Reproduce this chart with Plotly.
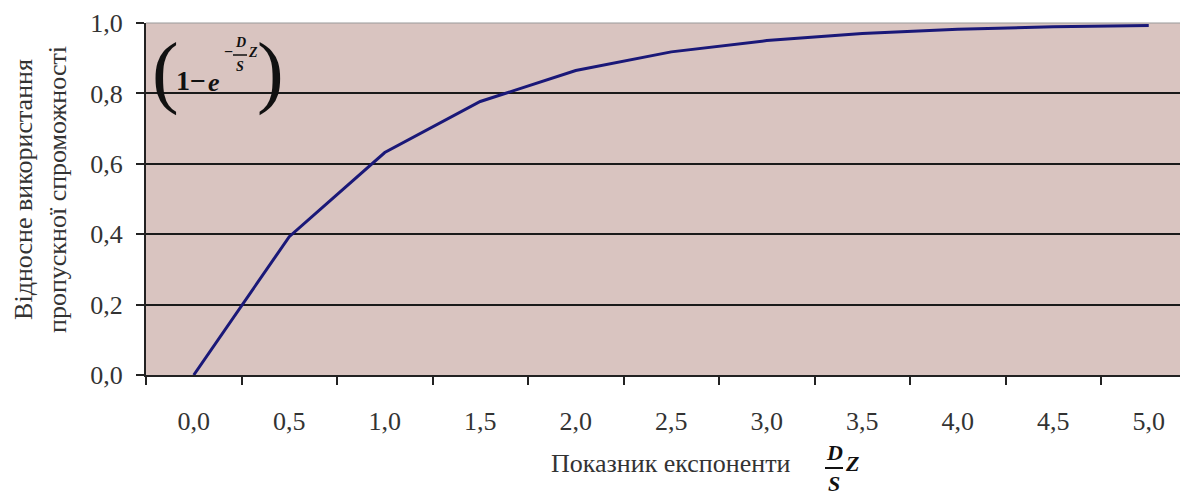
import plotly.graph_objects as go

x_labels = ["0,0", "0,5", "1,0", "1,5", "2,0", "2,5", "3,0", "3,5", "4,0", "4,5", "5,0"]
y_values = [0.0, 0.393, 0.632, 0.777, 0.865, 0.918, 0.950, 0.970, 0.982, 0.989, 0.993]
y_ticks = [0.0, 0.2, 0.4, 0.6, 0.8, 1.0]
y_tick_labels = ["0,0", "0,2", "0,4", "0,6", "0,8", "1,0"]

OFF = 8  # default page body margin
W, H = 1188 - OFF, 495 - OFF
L, T = 146 - OFF, 23 - OFF
BOTTOM = 375 - OFF
B = H - BOTTOM
PW, PH = W - L, BOTTOM - T

def px(x):  # page pixel -> paper
    return (x - OFF - L) / PW

def py(y):
    return (BOTTOM - (y - OFF)) / PH

SERIF = "Liberation Serif, Times New Roman, serif"
FS = 26

fig = go.Figure()
fig.add_trace(go.Scatter(
    x=x_labels, y=y_values, mode="lines",
    line=dict(color="#1a1878", width=3),
    hoverinfo="skip", showlegend=False,
))

fig.update_layout(
    width=W, height=H,
    margin=dict(l=L, r=0, t=T, b=B, pad=0),
    paper_bgcolor="white",
    plot_bgcolor="#d9c4c0",
    font=dict(family=SERIF, color="#333333", size=FS),
    showlegend=False,
)
fig.update_xaxes(
    type="category", range=[-0.5, -0.5 + PW / 95.5],
    tickson="boundaries", ticks="outside", ticklen=8, tickwidth=2, tickcolor="#222",
    showgrid=False, showline=True, linecolor="#222", linewidth=2,
    ticklabelstandoff=22, tickfont=dict(size=FS, color="#333"),
    zeroline=False,
)
fig.update_yaxes(
    range=[0, 1], tickvals=y_ticks, ticktext=y_tick_labels,
    ticks="outside", ticklen=8, tickwidth=2, tickcolor="#222",
    showgrid=True, gridcolor="#1a1a1a", gridwidth=1.5,
    showline=True, linecolor="#222", linewidth=2,
    ticklabelstandoff=8, tickfont=dict(size=FS, color="#333"),
    zeroline=False,
)

ann = []
def A(text, x, y, size, bold=False, italic=False, color="#111", xanchor="center", yanchor="middle"):
    t = text
    if italic:
        t = "<i>" + t + "</i>"
    if bold:
        t = "<b>" + t + "</b>"
    ann.append(dict(text=t, x=px(x), y=py(y), xref="paper", yref="paper",
                    showarrow=False, xanchor=xanchor, yanchor=yanchor,
                    font=dict(family=SERIF, size=size, color=color)))

# y-axis title
ann.append(dict(text="Відносне використання<br>пропускної спроможності",
                x=px(40), y=py(190), xref="paper", yref="paper", showarrow=False,
                textangle=-90, xanchor="center", yanchor="middle",
                font=dict(family=SERIF, size=26, color="#333")))

# x-axis title
A("Показник експоненти", 670, 463, FS, color="#333")
A("D", 834, 452, 22, bold=True, italic=True)
A("S", 834, 483, 22, bold=True, italic=True)
A("Z", 852, 463, 22, bold=True, italic=True)

# formula box
A("(", 165, 72, 80, color="#111")
A(")", 270, 72, 80, color="#111")
A("1−", 191, 80, 28, bold=True)
A("e", 214, 83, 26, bold=True, italic=True)
A("−", 228, 51, 16, bold=True)
A("D", 240, 43, 14, bold=True, italic=True)
A("S", 240, 66, 14, bold=True, italic=True)
A("Z", 253, 52, 14, bold=True, italic=True)
fig.update_layout(annotations=ann)

shapes = [
    dict(type="line", xref="paper", yref="paper", x0=px(825), x1=px(843), y0=py(468), y1=py(468),
         line=dict(color="#111", width=2)),
    dict(type="line", xref="paper", yref="paper", x0=px(233), x1=px(247), y0=py(55), y1=py(55),
         line=dict(color="#111", width=1.5)),
    dict(type="line", xref="paper", yref="paper", x0=0, x1=1, y0=1, y1=1,
         line=dict(color="#999", width=1)),
]
fig.update_layout(shapes=shapes)

fig.write_html("out.html")
